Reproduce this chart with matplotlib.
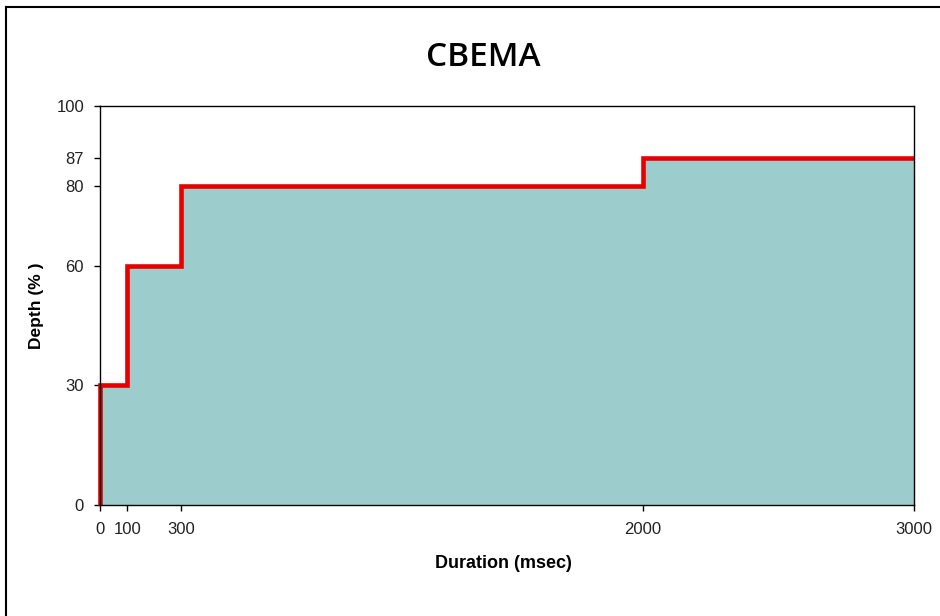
import matplotlib
matplotlib.use("Agg")
import matplotlib.pyplot as plt
from matplotlib.lines import Line2D

duration = [0, 100, 300, 2000, 3000]
depth = [30, 60, 80, 87, 87]
x_ticks = [0, 100, 300, 2000, 3000]
y_ticks = [0, 30, 60, 80, 87, 100]

fig = plt.figure(figsize=(9.40, 6.16), dpi=100)
fig.patch.set_facecolor("white")
ax = fig.add_axes([100/940, 1-505/616, 814/940, 399/616])

xs = [duration[0]] + duration
ys = [0] + depth
ax.fill_between(duration, depth, 0, step="post", color="#9DCCCC", linewidth=0, zorder=1)
ax.step(xs, ys, where="post", color="#E60000", linewidth=3.3, zorder=3,
        solid_joinstyle="miter", solid_capstyle="butt", clip_on=False)

ax.set_xlim(0, 3000)
ax.set_ylim(0, 100)
ax.set_xticks(x_ticks)
ax.set_yticks(y_ticks)
ax.set_xticklabels([str(v) for v in x_ticks], fontsize=12, family="Liberation Sans", color="#222222")
ax.set_yticklabels([str(v) for v in y_ticks], fontsize=12, family="Liberation Sans", color="#222222")
ax.tick_params(axis="y", direction="out", length=4.5, width=1, pad=7)
ax.tick_params(axis="x", direction="out", length=4.5, width=1, pad=8)
for s in ax.spines.values():
    s.set_linewidth(1.0)
    s.set_color("black")
    s.set_zorder(4)

ax.set_xlabel("Duration (msec)", fontsize=13, fontweight="bold", family="Liberation Sans")
ax.set_ylabel("Depth (% )", fontsize=12.5, fontweight="bold", family="Liberation Sans")
ax.xaxis.label.set_va("center")
ax.yaxis.label.set_va("center")
ax.xaxis.set_label_coords((503-100)/814, (505-563)/399)
ax.yaxis.set_label_coords((36-100)/814, (505-306)/399)

fig.text(483/940, 1-58/616, "CBEMA", ha="center", va="center", fontsize=24,
         family="Open Sans", fontweight="semibold")

# outer frame
fig.add_artist(Line2D([5.5/940, 5.5/940], [0, 1-7/616], transform=fig.transFigure, color="black", linewidth=1.5))
fig.add_artist(Line2D([5.5/940, 1], [1-7/616, 1-7/616], transform=fig.transFigure, color="black", linewidth=1.5))

fig.savefig("out.png", dpi=100)
